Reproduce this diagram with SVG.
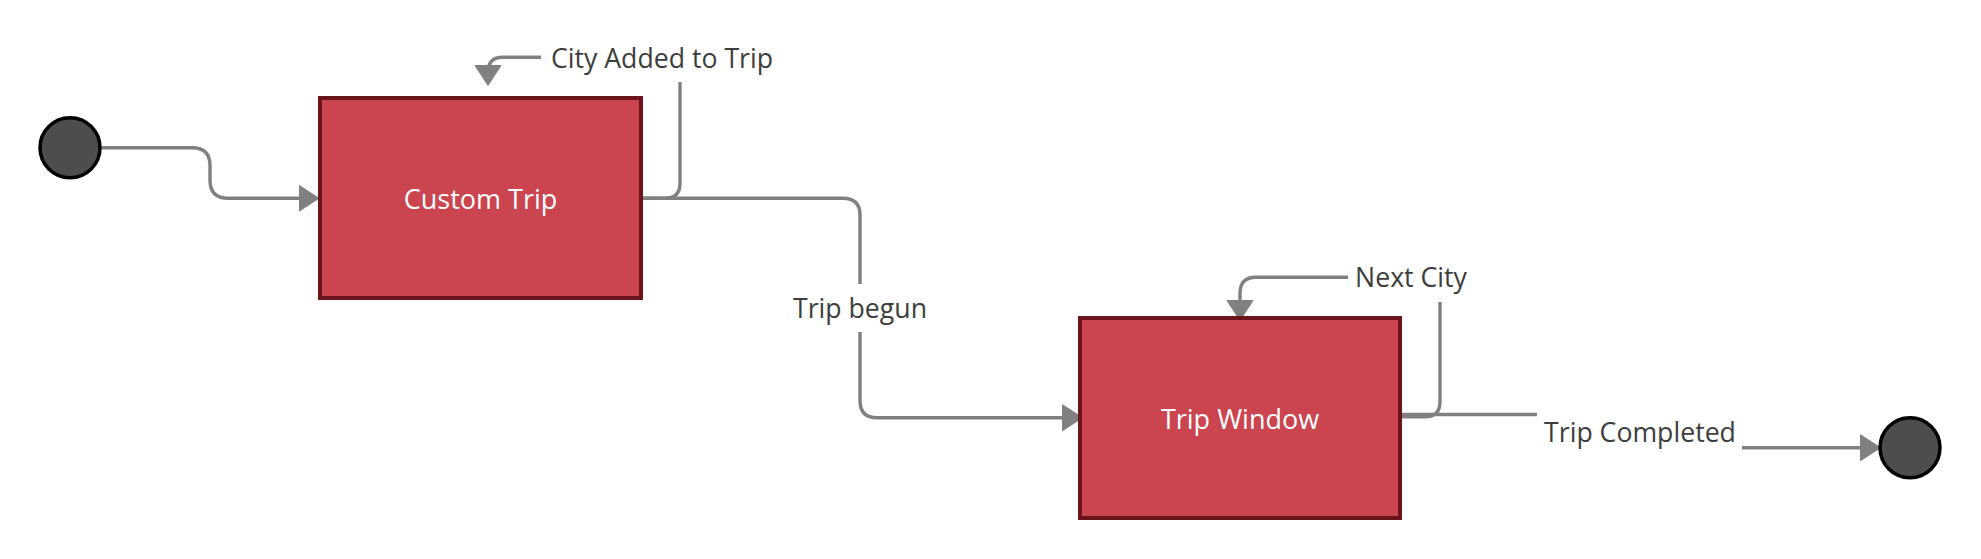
<svg xmlns="http://www.w3.org/2000/svg" width="1981" height="559" viewBox="0 0 1981 559">
  <defs>
    <style>
      .state { fill: #cb4550; stroke: #6b141c; stroke-width: 4; }
      .pseudo { fill: #4d4d4d; stroke: #000000; stroke-width: 3.5; }
      .conn { fill: none; stroke: #808080; stroke-width: 3.4; }
      .arrow { marker-end: url(#arrowhead); }
      .lblbg { fill: #ffffff; stroke: none; }
      .title { font-family: "Open Sans", "Noto Sans", sans-serif; font-size: 27px; fill: #ffffff; text-anchor: middle; }
      .lbl { font-family: "Open Sans", "Noto Sans", sans-serif; font-size: 26.67px; fill: #3d3d3d; text-anchor: middle; }
    </style>
    <marker id="arrowhead" markerUnits="userSpaceOnUse" markerWidth="22" markerHeight="28" refX="10" refY="13.5" orient="auto" viewBox="0 0 22 28">
      <path d="M0.5,0.5 L20.5,13.5 L0.5,26.5 Z" fill="#808080" stroke="#808080" stroke-width="1" stroke-linejoin="round"/>
    </marker>
  </defs>

  <g id="connectors">
    <path class="conn arrow" d="M101.5 147.7 H192 Q210 147.7 210 165.7 V180.3 Q210 198.3 228 198.3 H308.5"/>
    <path class="conn arrow" d="M642 198.3 H665 Q680 198.3 680 183.3 V57.3 H503 Q488 57.3 488 72.3 V75"/>
    <path class="conn arrow" d="M642 198.3 H843 Q860 198.3 860 215.3 V400.7 Q860 417.7 877 417.7 H1072"/>
    <path class="conn arrow" d="M1402 416.7 H1425 Q1440 416.7 1440 401.7 V277.3 H1256 Q1240 277.3 1240 293.3 V310"/>
    <path class="conn arrow" d="M1402 414.5 H1640 V447.7 H1870"/>
    <rect class="lblbg" x="541" y="34" width="242" height="48"/>
    <text class="lbl" x="662" y="68">City Added to Trip</text>
    <rect class="lblbg" x="784" y="284" width="152" height="48"/>
    <text class="lbl" x="860" y="318">Trip begun</text>
    <rect class="lblbg" x="1348" y="254" width="126" height="48"/>
    <text class="lbl" x="1411" y="287">Next City</text>
    <rect class="lblbg" x="1537" y="408" width="205" height="48"/>
    <text class="lbl" x="1640" y="441.7">Trip Completed</text>
  </g>

  <g id="start">
    <circle class="pseudo" cx="70" cy="147.7" r="30"/>
  </g>
  <g id="custom-trip">
    <rect class="state" x="320" y="98" width="321" height="200"/>
    <text class="title" x="480.5" y="209">Custom Trip</text>
  </g>
  <g id="trip-window">
    <rect class="state" x="1080" y="318" width="320" height="200"/>
    <text class="title" x="1240" y="429">Trip Window</text>
  </g>
  <g id="end">
    <circle class="pseudo" cx="1910" cy="447.7" r="30"/>
  </g>
</svg>
